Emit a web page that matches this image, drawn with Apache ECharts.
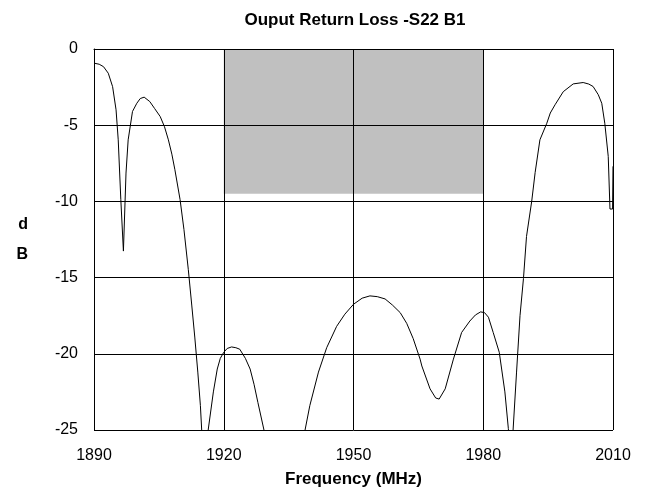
<!DOCTYPE html>
<html>
<head>
<meta charset="utf-8">
<script src="https://cdn.jsdelivr.net/npm/echarts@6/dist/echarts.min.js"></script>
<style>
  html, body { margin: 0; padding: 0; background: #fff; }
  #chart { width: 647px; height: 493px; }
</style>
</head>
<body>
<div id="chart"></div>
<script>
// frequency (MHz) and return loss (dB)
const freq = [
  1890.2, 1891.2, 1892.2, 1893.3, 1894.3, 1895.1, 1895.6, 1896.2, 1896.8, 1897.4,
  1897.9, 1898.9, 1899.9, 1900.7, 1901.6, 1902.9, 1904.0, 1905.3, 1906.3, 1907.2,
  1908.0, 1908.7, 1909.9, 1910.8, 1911.8, 1912.6, 1913.3, 1914.0, 1914.6, 1914.9,
  1915.6, 1916.4, 1917.6, 1918.5, 1919.2, 1920.0, 1920.8, 1921.8, 1922.8, 1923.7,
  1925.0, 1926.1, 1927.0, 1927.9, 1929.3, 1931.0, 1937.0, 1938.8, 1939.9, 1941.9,
  1943.8, 1946.1, 1948.0, 1950.0, 1952.0, 1953.8, 1955.5, 1957.3, 1959.0, 1960.8,
  1962.3, 1963.8, 1965.4, 1965.8, 1967.7, 1969.0, 1969.8, 1971.2, 1973.1, 1975.0,
  1976.9, 1978.2, 1979.4, 1980.3, 1981.2, 1982.3, 1983.7, 1985.0, 1985.8, 1986.4,
  1986.9, 1987.7, 1988.5, 1989.3, 1990.0, 1991.2, 1992.0, 1993.1, 1994.7, 1995.5,
  1996.6, 1998.5, 2000.8, 2003.1, 2004.4, 2005.4, 2006.6, 2007.4, 2008.1, 2008.9,
  2009.3, 2009.9, 2010.0
];
const s22 = [
  -0.94, -1.0, -1.16, -1.59, -2.47, -3.99, -5.96, -9.88, -13.26, -8.14,
  -5.96, -4.10, -3.56, -3.25, -3.16, -3.45, -3.9, -4.43, -5.1, -5.96,
  -6.9, -7.92, -9.88, -11.85, -14.46, -16.8, -18.9, -21.2, -23.4, -25,
  -28, -25, -22.5, -21.0, -20.3, -19.9, -19.65, -19.55, -19.6, -19.7,
  -20.3, -21.0, -22.0, -23.2, -25, -30, -30, -25, -23.4, -21.2,
  -19.6, -18.2, -17.4, -16.75, -16.35, -16.2, -16.25, -16.4, -16.8, -17.3,
  -18.0, -19.0, -20.35, -20.8, -22.3, -22.9, -22.97, -22.3, -20.35, -18.6,
  -17.85, -17.45, -17.25, -17.3, -17.6, -18.6, -19.9, -22.5, -24.9, -27,
  -25, -21.2, -17.5, -15.05, -12.3, -10.0, -8.1, -5.96, -4.87, -4.2,
  -3.66, -2.8, -2.29, -2.2, -2.3, -2.46, -3.0, -3.56, -4.87, -7.05,
  -10.5, -10.5, -7.7
];
// shaded spec window
const bandX = [1920, 1980];
const bandY = [0, -9.5];

const font = '"Liberation Sans Narrow", "Liberation Sans", Arial, sans-serif';

const chart = echarts.init(document.getElementById('chart'));
chart.setOption({
  animation: false,
  backgroundColor: '#fff',
  title: {
    text: 'Ouput Return Loss -S22 B1',
    left: 350,
    textAlign: 'center',
    top: 7,
    textStyle: { fontFamily: font, fontSize: 17, fontWeight: 'bold', color: '#000' }
  },
  grid: { left: 94, right: 34, top: 49, bottom: 62 },
  xAxis: {
    type: 'value',
    min: 1890,
    max: 2010,
    interval: 30,
    z: 3,
    name: 'Frequency (MHz)',
    nameLocation: 'middle',
    nameGap: 41,
    nameTextStyle: { fontFamily: font, fontSize: 17, fontWeight: 'bold', color: '#000' },
    axisLine: { show: true, lineStyle: { color: '#000', width: 1 } },
    axisTick: { show: false },
    axisLabel: { margin: 18, fontFamily: font, fontSize: 16, color: '#000', formatter: v => String(v) },
    splitLine: { show: true, lineStyle: { color: '#000', width: 1 } }
  },
  yAxis: {
    type: 'value',
    min: -25,
    max: 0,
    interval: 5,
    z: 3,
    name: 'd\nB',
    nameLocation: 'middle',
    nameRotate: 0,
    nameGap: 66,
    nameTextStyle: { fontFamily: font, fontSize: 16, fontWeight: 'bold', color: '#000', lineHeight: 30 },
    axisLine: { show: true, lineStyle: { color: '#000', width: 1 } },
    axisTick: { show: false },
    axisLabel: { margin: 16, fontFamily: font, fontSize: 16, color: '#000' },
    splitLine: { show: true, lineStyle: { color: '#000', width: 1 } }
  },
  series: [
    {
      type: 'line',
      z: 1,
      data: [],
      silent: true,
      markArea: {
        silent: true,
        itemStyle: { color: '#c0c0c0', opacity: 1 },
        data: [[{ xAxis: bandX[0], yAxis: bandY[0] }, { xAxis: bandX[1], yAxis: bandY[1] }]]
      }
    },
    {
      type: 'line',
      z: 5,
      clip: true,
      showSymbol: false,
      data: freq.map((f, i) => [f, s22[i]]),
      lineStyle: { color: '#000', width: 1 }
    }
  ]
});
</script>
</body>
</html>
